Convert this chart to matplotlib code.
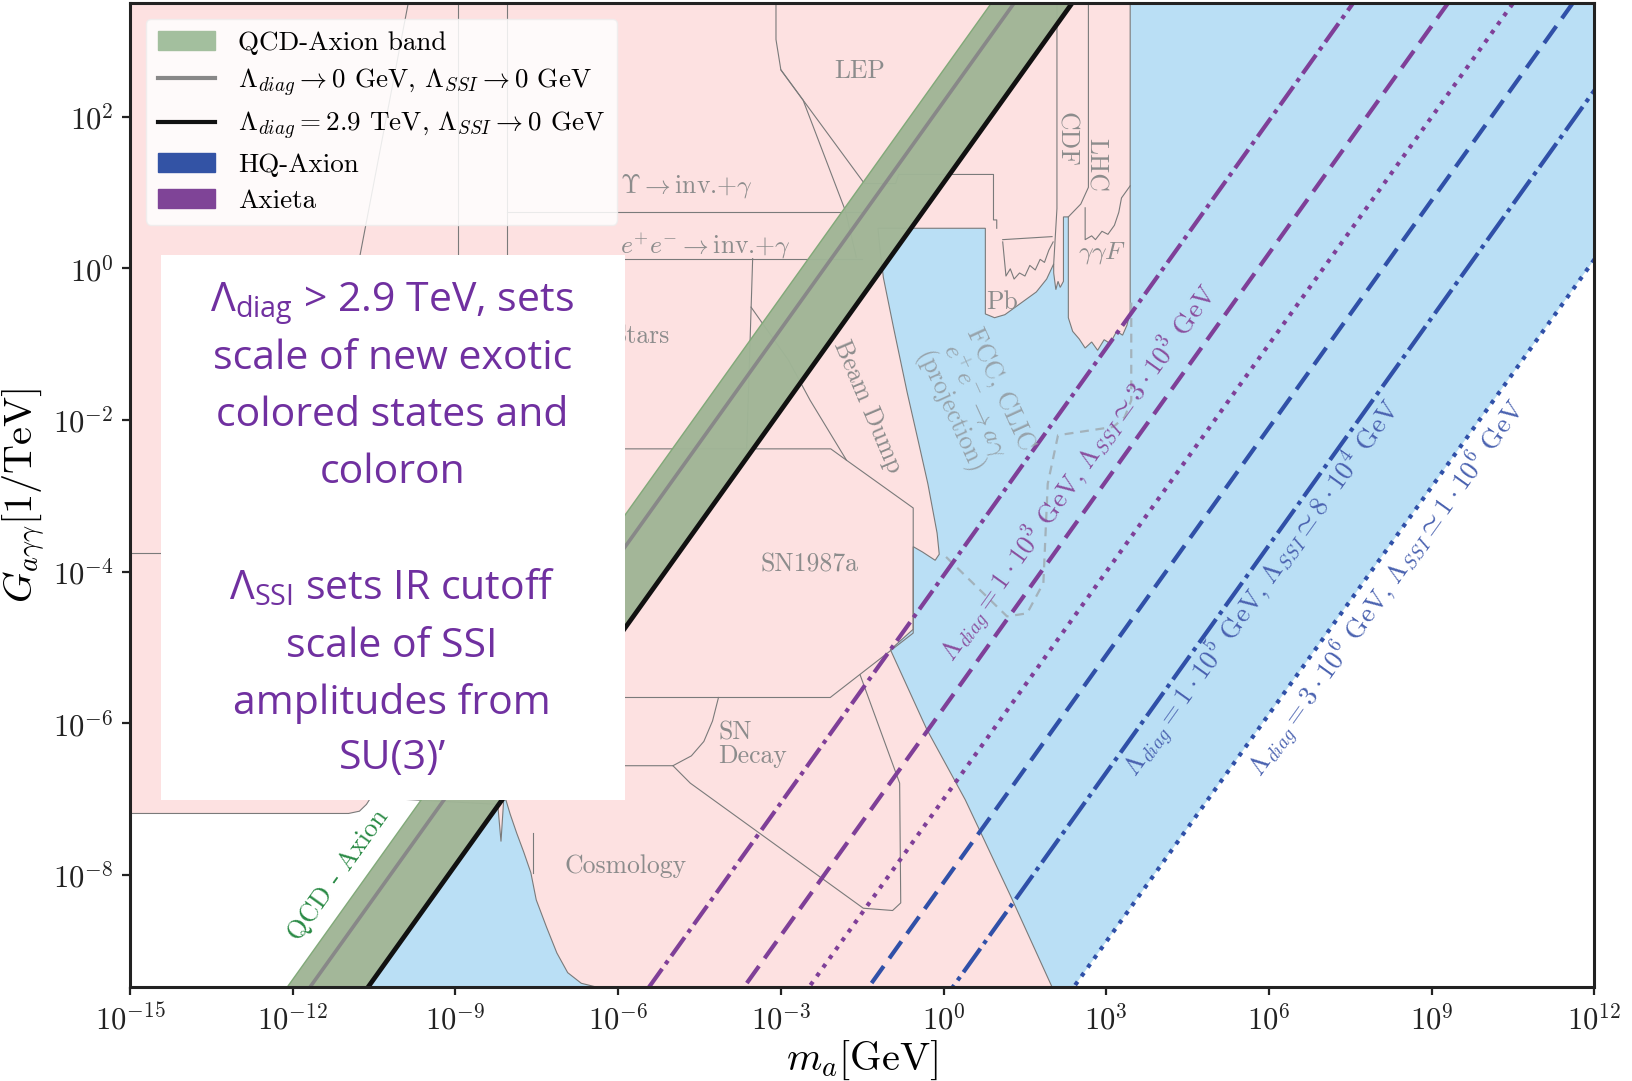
import numpy as np
import matplotlib.pyplot as plt
from matplotlib.patches import Patch, Rectangle
from matplotlib.lines import Line2D

plt.rcParams.update({
    'font.family': 'serif',
    'font.serif': ['cmr10'],
    'mathtext.fontset': 'cm',
    'axes.unicode_minus': False,
    'axes.formatter.use_mathtext': True,
    'mathtext.rm': 'Open Sans',
    'mathtext.it': 'Open Sans:italic',
    'mathtext.bf': 'Open Sans:bold',
})

# everything below is in log10 units: x = log10(m_a / GeV), y = log10(G / TeV^-1)
x_range = (-15, 12)
y_range = (-9.48, 3.5)
x_ticks = [-15, -12, -9, -6, -3, 0, 3, 6, 9, 12]
y_ticks = [-8, -6, -4, -2, 0, 2]

# straight lines  log G = log m + offset
band_top = 2.62
qcd_off = 2.2
diag_off = 1.13
axieta_off = [-4.05, -5.8, -7.0]
hq_off = [-8.1, -9.65, -11.88]

# combined excluded region (outer edge)
pink_m = [-15.5, 3.44, 3.44, 3.38, 3.30, 3.19, 3.07, 2.96, 2.84, 2.73, 2.61, 2.50, 2.38, 2.30,
          2.30, 2.21, 2.21, 2.15, 2.11, 2.07, 2.03, 2.03, 1.90, 1.71, 1.42, 1.13, 0.94, 0.77,
          0.77, -1.21, -1.17, -1.11, -0.92, -0.67, -0.46, -0.29, -0.12, -0.08, -0.155, -0.39,
          -0.56, -0.56, -0.98, -0.31, 0.40, 1.23, 2.0, 2.0, -6.40, -6.40, -6.68, -6.93, -7.13,
          -7.32, -7.51, -7.61, -7.74, -7.87, -7.99, -8.07, -8.11, -8.16, -8.22, -10.56, -10.64,
          -10.77, -10.97, -15.5]
pink_g = [3.8, 3.8, -0.58, -0.75, -0.88, -0.83, -0.99, -0.94, -1.08, -0.97, -1.05, -0.93, -0.83,
          -0.65, 0.68, 0.68, -0.17, -0.25, -0.17, -0.28, -0.06, 0.06, -0.14, -0.31, -0.46, -0.61,
          -0.65, -0.60, 0.53, 0.53, 0.24, -0.12, -0.79, -1.64, -2.30, -2.84, -3.49, -3.77, -3.85,
          -3.74, -3.67, -4.76, -5.03, -6.08, -7.01, -8.27, -9.48, -9.7, -9.7, -9.48, -9.43,
          -9.29, -9.03, -8.69, -8.33, -7.97, -7.70, -7.45, -7.20, -7.01, -7.01, -7.56, -7.07,
          -6.98, -7.07, -7.16, -7.19, -7.19]

# inner boundaries between the individual bounds
borders = {
    'lep_a': ([-3.09, -3.09, -3.0, -1.46, -0.885, -0.83, 0.92, 0.92, 0.98, 0.98],
              [3.8, 3.02, 2.62, 1.12, 1.12, 1.24, 1.24, 0.64, 0.64, 0.53]),
    'lep_b': ([-3.0, -2.59, -1.81, -1.61], [2.62, 2.22, 0.76, 0.15]),
    'upsilon_v': ([-8.05, -8.05], [3.8, 0.0]),
    'upsilon_h': ([-8.05, -1.46], [0.75, 0.75]),
    'ee': ([-8.95, -8.95], [3.8, 0.0]),
    'ee_h': ([-8.95, -1.50], [0.13, 0.13]),
    'slant': ([-9.87, -10.76], [3.5, 0.17]),
    'stars_v': ([-3.52, -3.63], [0.13, -2.38]),
    'stars_d': ([-3.55, -2.86, -2.46, -1.79], [-0.51, -1.21, -1.74, -2.53]),
    'sn1987a': ([-5.88, -2.08, -1.79, -0.56, -0.56, -2.09, -5.88],
                [-2.38, -2.38, -2.53, -3.16, -4.81, -5.66, -5.66]),
    'sn_decay': ([-4.15, -4.26, -4.42, -4.65, -4.99, -5.88],
                 [-5.66, -5.97, -6.24, -6.43, -6.56, -6.56]),
    'cosmo': ([-4.99, -4.67, -1.48, -0.94, -0.79, -0.81, -1.54],
              [-6.56, -6.79, -8.44, -8.47, -8.37, -6.79, -5.36]),
    'left': ([-15.5, -14.42], [-3.76, -3.76]),
    'cosmo_v': ([-7.57, -7.57], [-7.45, -7.97]),
    'cdf': ([2.09, 2.09, 2.03], [3.8, 0.79, 0.06]),
    'lhc': ([2.67, 2.67, 2.53, 2.30], [3.8, 1.07, 0.85, 0.68]),
    'gg_f': ([2.61, 2.61, 2.73, 2.80, 2.92, 3.03, 3.15, 3.23, 3.28, 3.44],
             [0.80, 0.38, 0.43, 0.38, 0.49, 0.45, 0.57, 0.74, 0.93, 1.09]),
    'pb_top': ([1.09, 2.0], [0.38, 0.42]),
    'pb_data': ([1.09, 1.15, 1.23, 1.30, 1.40, 1.50, 1.59, 1.69, 1.78, 1.86, 1.94, 2.02],
                [0.35, -0.10, -0.005, -0.14, -0.06, -0.10, 0.04, -0.02, 0.12, 0.08, 0.24, 0.35]),
}

# FCC / CLIC projected reach
fcc_m = [3.46, 3.46, 3.34, 3.13, 2.11, 1.92, 1.84, 1.54, 1.17, -0.02]
fcc_g = [-0.45, -1.74, -1.96, -2.09, -2.20, -2.84, -4.15, -4.55, -4.59, -3.76]

# region labels: text, log m, log G, rotation, horizontal alignment
region_labels = [
    ('LEP', -1.54, 2.60, 0, 'center'),
    ('CDF', 2.25, 1.70, -90, 'center'),
    ('LHC', 2.80, 1.37, -90, 'center'),
    (r'$\gamma\gamma F$', 2.92, 0.21, 0, 'center'),
    ('Pb', 1.07, -0.45, 0, 'center'),
    (r'$\Upsilon\rightarrow$inv.$+\gamma$', -5.97, 1.09, 0, 'left'),
    (r'$e^{+}e^{-}\rightarrow$inv.$+\gamma$', -5.97, 0.30, 0, 'left'),
    ('Stars', -6.11, -0.90, 0, 'left'),
    ('Beam Dump', -1.40, -1.82, -67, 'center'),
    ('SN1987a', -2.48, -3.91, 0, 'center'),
    ('SN\nDecay', -4.15, -6.28, 0, 'left'),
    ('Cosmology', -5.86, -7.89, 0, 'center'),
]
fcc_label = ('FCC, CLIC\n' + r'$e^{+}e^{-}\rightarrow a\gamma$' + '\n(projection)', 0.56, -1.75, -65.5)

line_labels = [
    (r'$\Lambda_{diag} = 1\cdot 10^{3}$ GeV, $\Lambda_{SSI} \simeq 3\cdot 10^{3}$ GeV', 2.515, -2.71, '#8a4f9e'),
    (r'$\Lambda_{diag} = 1\cdot 10^{5}$ GeV, $\Lambda_{SSI} \simeq 8\cdot 10^{4}$ GeV', 5.876, -4.22, '#4a62b0'),
    (r'$\Lambda_{diag} = 3\cdot 10^{6}$ GeV, $\Lambda_{SSI} \simeq 1\cdot 10^{6}$ GeV', 8.18, -4.22, '#4a62b0'),
]

box_lines = [r'$\mathrm{\Lambda_{diag}}$ > 2.9 TeV, sets', 'scale of new exotic',
             'colored states and', 'coloron', r'$\mathrm{\Lambda_{SSI}}$ sets IR cutoff',
             'scale of SSI', 'amplitudes from', 'SU(3)’']
box_baselines = [0.6868, 0.6286, 0.5704, 0.5122, 0.3937, 0.3354, 0.2772, 0.2212]

pink = '#fde1e1'
sky = '#badff5'
green = '#a0b596'
purple = '#7f3f98'
blue = '#3050a8'
edge = '#7a7a7a'
label_grey = '#8c8c8c'


def p(v):
    return 10.0 ** np.asarray(v, dtype=float)


fig = plt.figure(figsize=(16.33, 10.81), dpi=100)
ax = fig.add_axes([0.0796, 0.0869, 0.8968, 0.9102])
ax.set_xscale('log')
ax.set_yscale('log')
ax.set_xlim(p(x_range[0]), p(x_range[1]))
ax.set_ylim(p(y_range[0]), p(y_range[1]))

lo, hi = y_range[0] - 0.3, y_range[1] + 0.3
right = x_range[1] + 1

# HQ-axion / axieta parameter space between the 2.9 TeV line and the lowest HQ line
blue_m = [lo - diag_off, hi - diag_off, right, right, lo - hq_off[-1]]
blue_g = [lo, hi, hi, right + hq_off[-1], lo]
ax.fill(p(blue_m), p(blue_g), color=sky, lw=0, zorder=1)

ax.fill(p(pink_m), p(pink_g), facecolor=pink, edgecolor=edge, lw=0.8, zorder=2)
for bm, bg in borders.values():
    ax.plot(p(bm), p(bg), color=edge, lw=0.8, zorder=3)
ax.plot(p(fcc_m), p(fcc_g), color='#a3b2bb', lw=1.6, ls=(0, (4, 3)), zorder=3)

# QCD axion band
band_m = [lo - band_top, hi - band_top, hi - diag_off, lo - diag_off]
band_g = [lo, hi, hi, lo]
ax.fill(p(band_m), p(band_g), facecolor=green, edgecolor='#7fa877', lw=1.0, alpha=0.97, zorder=4)

xs = np.array([x_range[0] - 1, x_range[1] + 1])
ax.plot(p(xs), p(xs + qcd_off), color='#888888', lw=2.6, zorder=5)
ax.plot(p(xs), p(xs + diag_off), color='#111111', lw=3.4, zorder=5)

styles = [(0, (5.5, 1.4, 1, 1.4)), (0, (5, 2.3)), (0, (1, 1.6))]
hq_styles = [(0, (5, 2.3)), (0, (7, 1.4, 1, 1.4)), (0, (1, 1.6))]
for off, ls in zip(axieta_off, styles):
    ax.plot(p(xs), p(xs + off), color=purple, lw=3.0, ls=ls, zorder=5)
for off, ls in zip(hq_off, hq_styles):
    ax.plot(p(xs), p(xs + off), color=blue, lw=3.0, ls=ls, zorder=5)

# angle of a slope-one line on screen
a0 = ax.transData.transform((1.0, 1.0))
a1 = ax.transData.transform((10.0, 10.0))
slope_angle = np.degrees(np.arctan2(a1[1] - a0[1], a1[0] - a0[0]))

for txt, lm, lg, rot, ha in region_labels:
    ax.text(p(lm), p(lg), txt, color=label_grey, fontsize=18.5, rotation=rot,
            ha=ha, va='center', rotation_mode='anchor', zorder=6, linespacing=1.0)
ax.text(p(fcc_label[1]), p(fcc_label[2]), fcc_label[0], color='#97a3ab', fontsize=18.5,
        rotation=fcc_label[3], ha='center', va='center', rotation_mode='anchor',
        multialignment='center', linespacing=1.0, zorder=6)
ax.text(p(-11.15), p(-8.0), 'QCD - Axion', color='#2a8a45', fontsize=19,
        rotation=slope_angle, ha='center', va='center', rotation_mode='anchor', zorder=6)
for txt, lm, lg, col in line_labels:
    ax.text(p(lm), p(lg), txt, color=col, fontsize=19.5, rotation=slope_angle,
            ha='center', va='center', rotation_mode='anchor', zorder=6)

# explanatory box
ax.add_patch(Rectangle((0.0213, 0.190), 0.3166, 0.554, transform=ax.transAxes,
                       facecolor='white', edgecolor='none', zorder=8))
for txt, yb in zip(box_lines, box_baselines):
    ax.text(0.179, yb, txt, transform=ax.transAxes, fontsize=29.5, color='#7030a0',
            family='Open Sans', math_fontfamily='custom', ha='center', va='baseline', zorder=9)

handles = [
    Patch(facecolor='#a3bf9e', edgecolor='#a3bf9e'),
    Line2D([], [], color='#888888', lw=3),
    Line2D([], [], color='#111111', lw=3),
    Patch(facecolor='#3353a5', edgecolor='#3353a5'),
    Patch(facecolor='#7f4497', edgecolor='#7f4497'),
]
labels = ['QCD-Axion band',
          r'$\Lambda_{diag}\rightarrow 0$ GeV, $\Lambda_{SSI}\rightarrow 0$ GeV',
          r'$\Lambda_{diag} = 2.9$ TeV, $\Lambda_{SSI}\rightarrow 0$ GeV',
          'HQ-Axion', 'Axieta']
leg = ax.legend(handles, labels, loc='upper left', bbox_to_anchor=(0.0107, 0.984),
                borderaxespad=0, fontsize=19.5, frameon=True, fancybox=True, framealpha=0.85,
                facecolor='white', edgecolor='#eeeeee', handlelength=2.1, handletextpad=0.85,
                labelspacing=0.42, borderpad=0.45)
leg.set_zorder(10)

ax.set_xticks(p(x_ticks))
ax.set_xticklabels([rf'$10^{{{e}}}$' for e in x_ticks])
ax.set_yticks(p(y_ticks))
ax.set_yticklabels([rf'$10^{{{e}}}$' for e in y_ticks])
ax.minorticks_off()
ax.tick_params(labelsize=22, length=6, width=1.6, color='#222222', labelcolor='#222222', pad=6)
for s in ax.spines.values():
    s.set_linewidth(2.2)
    s.set_color('#222222')
    s.set_zorder(11)
ax.set_xlabel(r'$m_a$[GeV]', fontsize=29, labelpad=2)
ax.set_ylabel(r'$G_{a\gamma\gamma}$[1/TeV]', fontsize=29, labelpad=4)

fig.savefig('out.png', dpi=100)
